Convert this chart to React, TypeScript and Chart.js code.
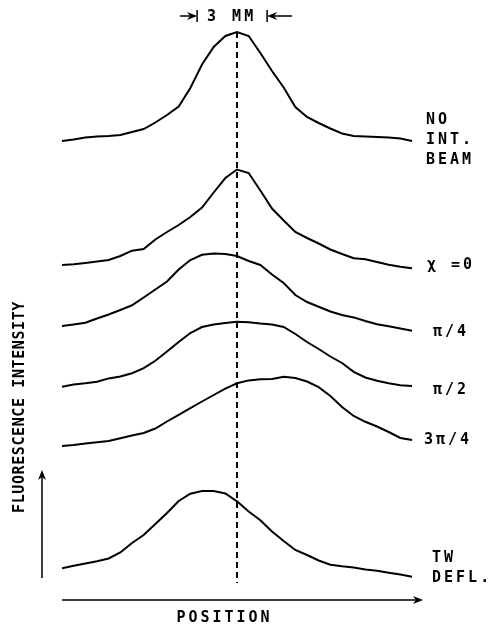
import React, { useEffect, useRef } from "react";
import { Chart, registerables } from "chart.js";

Chart.register(...registerables);

// Position along the beam (mm)
const positionMm = [
  0, 0.5, 1, 1.5, 2, 2.5, 3, 3.5, 4, 4.5, 5, 5.5, 6, 6.5, 7, 7.5,
  8, 8.5, 9, 9.5, 10, 10.5, 11, 11.5, 12, 12.5, 13, 13.5, 14, 14.5, 15,
];

// Fluorescence intensity (arbitrary units, relative to each trace's baseline)
const noIntBeam = [
  0, 1.5, 3.5, 4.5, 5, 6, 9, 12, 18.5, 26, 34.5, 53, 76.5, 94, 105, 109,
  105, 88, 70, 53.5, 34, 24, 18, 12.5, 7.5, 5, 4.5, 4, 3.5, 2.5, 0,
];
const chi0 = [
  0, 0.7, 2, 3.5, 5, 9, 14.3, 16, 25.5, 33, 40, 48, 57.5, 72.5, 87, 95.5,
  92, 74.5, 56.5, 44.5, 33, 27, 21.5, 15.5, 11, 6.7, 5.7, 3, 0.2, -1.8, -3.3,
];
const piOver4 = [
  0, 1.5, 3.2, 7.5, 11.5, 16, 20.7, 28.5, 36.5, 44.5, 56.5, 66, 71.2, 72.5, 72, 70,
  65, 61, 51.5, 43, 31, 24, 19.3, 14.5, 11, 8.6, 5, 1.8, -0.3, -2.5, -4.7,
];
const piOver2 = [
  0, 2.2, 3.4, 4.9, 8.3, 10.2, 13.5, 18.5, 25.9, 35.2, 44.7, 53.7, 59.7, 62.2, 63.7, 65,
  64.5, 63.1, 62.2, 59.7, 52.7, 44.7, 37.7, 30.2, 23.7, 14.9, 9.2, 5.9, 3.4, 1.5, 0.7,
];
const threePiOver4 = [
  0, 1, 2.5, 3.7, 5, 7.8, 10.5, 13, 17.5, 24.5, 31.2, 37.8, 44.5, 51, 57.3, 62.7,
  65.6, 66.7, 67, 69.3, 68, 64.5, 58.8, 50, 39, 30, 24.2, 19.5, 14, 8, 6,
];
const twDefl = [
  0, 2.6, 4.8, 7, 9.8, 15.8, 25.3, 33.3, 44.3, 55.3, 67.3, 74.6, 77.3, 77.3, 74.8, 67,
  56.8, 48.1, 36.8, 27.3, 18.3, 13.3, 7.8, 3.6, 2, 0.7, -1.1, -2.5, -4.5, -6.3, -8.4,
];

// Vertical offsets of the stacked traces
const traceOffsets = [459, 335, 274, 213.3, 154, 31.7];
const traceSeries = [noIntBeam, chi0, piOver4, piOver2, threePiOver4, twDefl];

// Trace labels (lines) and their vertical anchor values
const traceLabels = [
  ["NO", "INT.", "BEAM"],
  ["χ =0"],
  ["π/4"],
  ["π/2"],
  ["3π/4"],
  ["TW", "DEFL."],
];
const labelValues = [
  [480, 460, 440],
  [335],
  [268],
  [210],
  [160],
  [42, 22],
];
const labelDx = [14, 15, 21, 21, 12, 20];

const referenceMm = 7.5;
const scaleBarMm = [5.79, 8.79]; // 3 mm
const xMax = 15.47;
const yMax = 580;

export default function App() {
  const canvasRef = useRef<HTMLCanvasElement | null>(null);

  useEffect(() => {
    const canvas = canvasRef.current;
    if (!canvas) return;

    const font = "bold 15px 'DejaVu Sans Mono'";

    const arrowHead = (
      ctx: CanvasRenderingContext2D,
      x: number,
      y: number,
      dx: number,
      dy: number
    ) => {
      const len = 10;
      const half = 4;
      const px = -dy;
      const py = dx;
      ctx.beginPath();
      ctx.moveTo(x, y);
      ctx.lineTo(x - dx * len + px * half, y - dy * len + py * half);
      ctx.lineTo(x - dx * len * 0.7, y - dy * len * 0.7);
      ctx.lineTo(x - dx * len - px * half, y - dy * len - py * half);
      ctx.closePath();
      ctx.fill();
    };

    const annotations = {
      id: "annotations",
      afterDatasetsDraw(chart: any) {
        const ctx: CanvasRenderingContext2D = chart.ctx;
        const xs = chart.scales.x;
        const ys = chart.scales.y;
        const area = chart.chartArea;
        ctx.save();
        ctx.strokeStyle = "#000";
        ctx.fillStyle = "#000";

        // dashed reference line
        const xr = xs.getPixelForValue(referenceMm);
        ctx.lineWidth = 2;
        ctx.setLineDash([6, 4]);
        ctx.beginPath();
        ctx.moveTo(xr, ys.getPixelForValue(568));
        ctx.lineTo(xr, ys.getPixelForValue(17));
        ctx.stroke();
        ctx.setLineDash([]);

        // x-axis arrow
        ctx.lineWidth = 1.5;
        const yb = area.bottom;
        ctx.beginPath();
        ctx.moveTo(area.left, yb);
        ctx.lineTo(area.right - 4, yb);
        ctx.stroke();
        arrowHead(ctx, area.right, yb, 1, 0);

        // y-axis arrow
        const xa = area.left - 20;
        ctx.beginPath();
        ctx.moveTo(xa, ys.getPixelForValue(22));
        ctx.lineTo(xa, ys.getPixelForValue(126));
        ctx.stroke();
        arrowHead(ctx, xa, ys.getPixelForValue(130), 0, -1);

        // 3 mm scale bar
        const yt = area.top - 4;
        const b0 = xs.getPixelForValue(scaleBarMm[0]);
        const b1 = xs.getPixelForValue(scaleBarMm[1]);
        ctx.lineWidth = 1.5;
        ctx.beginPath();
        ctx.moveTo(b0 - 17, yt);
        ctx.lineTo(b0 - 3, yt);
        ctx.moveTo(b0, yt - 6);
        ctx.lineTo(b0, yt + 6);
        ctx.moveTo(b1, yt - 6);
        ctx.lineTo(b1, yt + 6);
        ctx.moveTo(b1 + 3, yt);
        ctx.lineTo(b1 + 25, yt);
        ctx.stroke();
        arrowHead(ctx, b0, yt, 1, 0);
        arrowHead(ctx, b1, yt, -1, 0);

        ctx.font = font;
        (ctx as any).letterSpacing = "3px";
        ctx.textBaseline = "middle";
        ctx.textAlign = "left";
        ctx.fillText("3", b0 + 10, yt + 1);
        ctx.fillText("MM", b0 + 35, yt + 1);

        // trace labels
        const xRight = xs.getPixelForValue(15);
        traceLabels.forEach((lines, i) => {
          lines.forEach((t, j) => {
            ctx.fillText(t, xRight + labelDx[i], ys.getPixelForValue(labelValues[i][j]));
          });
        });

        // axis titles
        ctx.textAlign = "center";
        ctx.fillText("POSITION", (area.left + area.right) / 2 - 18, yb + 18);

        ctx.save();
        (ctx as any).letterSpacing = "0.6px";
        ctx.translate(area.left - 42, ys.getPixelForValue(193));
        ctx.rotate(-Math.PI / 2);
        ctx.fillText("FLUORESCENCE INTENSITY", 0, 0);
        ctx.restore();

        ctx.restore();
      },
    };

    const chart = new Chart(canvas, {
      type: "line",
      data: {
        datasets: traceSeries.map((series, i) => ({
          label: `trace ${i + 1}`,
          data: positionMm.map((x, k) => ({ x, y: traceOffsets[i] + series[k] })),
          borderColor: "#000",
          borderWidth: 2,
          pointRadius: 0,
          tension: 0,
          fill: false,
        })),
      },
      options: {
        animation: false,
        responsive: false,
        devicePixelRatio: 1,
        layout: { padding: { left: 62, right: 66, top: 20, bottom: 26 } },
        plugins: {
          legend: { display: false },
          tooltip: { enabled: false },
        },
        scales: {
          x: { type: "linear", min: 0, max: xMax, display: false },
          y: { type: "linear", min: 0, max: yMax, display: false },
        },
      },
      plugins: [annotations],
    });

    return () => chart.destroy();
  }, []);

  return (
    <div style={{ position: "absolute", left: 0, top: 0, width: 489, height: 626, background: "#fff" }}>
      <canvas ref={canvasRef} width={489} height={626} style={{ display: "block" }} />
    </div>
  );
}
